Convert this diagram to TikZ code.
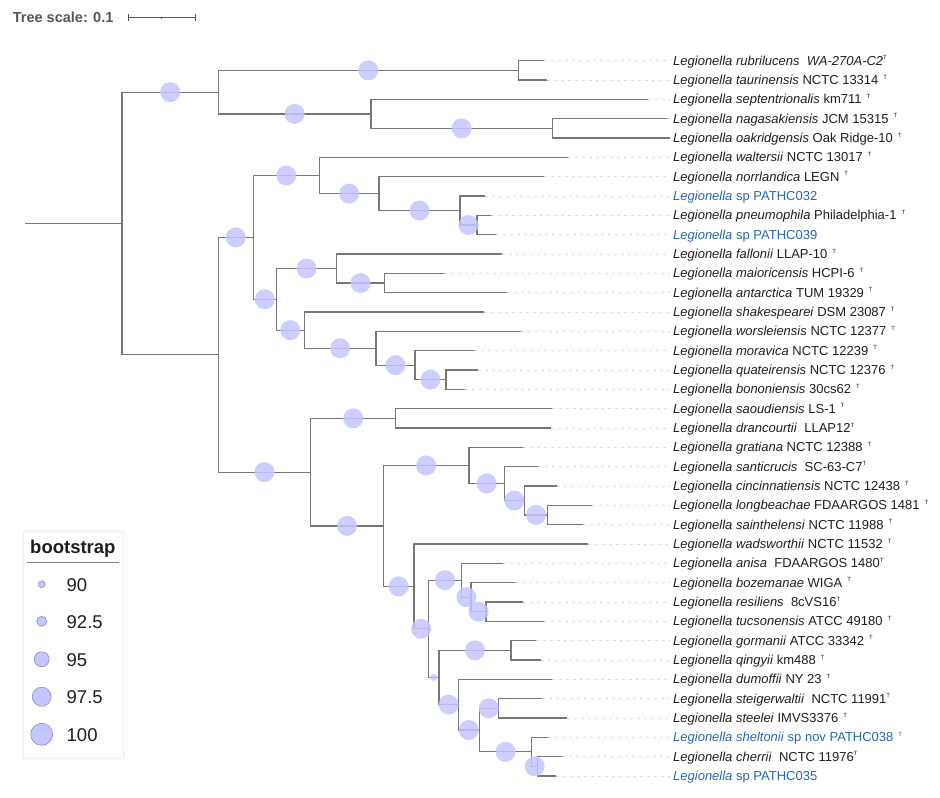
\documentclass[tikz,border=0pt]{standalone}
\usepackage{fontspec}
\setmainfont{Liberation Sans}
\usepackage{xcolor}
\usetikzlibrary{positioning,calc}

\definecolor{branchgray}{RGB}{118,118,118}
\definecolor{bootfill}{RGB}{196,196,255}
\definecolor{bootedge}{RGB}{140,140,190}
\definecolor{sample}{RGB}{38,104,172}
\definecolor{labeltext}{RGB}{30,30,30}
\definecolor{scalegray}{RGB}{85,85,85}

\newcommand\taxon[2]{\textit{Legionella #1} #2}
\newcommand\typc{\raisebox{5.5pt}{\fontsize{6}{6}\selectfont T}}
\newcommand\typ{\hspace{5pt}\typc}

\begin{document}
\begin{tikzpicture}[x=1pt,y=-1pt,
    branch/.style={draw=branchgray,line width=1.2pt},
    guide/.style={draw=gray!30,line width=0.8pt,dash pattern=on 3pt off 4pt},
    boot/.style={fill=bootfill,fill opacity=0.85},
    legdot/.style={fill=bootfill,draw=bootedge,line width=0.6pt},
    scalebar/.style={draw=scalegray,line width=1pt},
    leaflabel/.style={anchor=base west,inner xsep=3pt,inner ysep=0pt,text=labeltext,font=\fontsize{13}{15}\selectfont}]
    \useasboundingbox (0,0) rectangle (940,798);

    \coordinate (r0) at (25,223.4);
    \coordinate (r) at (122,223.4);
    \coordinate (nA) at (218.3,92.1);
    \coordinate (nA1) at (518.3,70.4);
    \coordinate (nA2) at (371,113.9);
    \coordinate (nA3) at (552.3,128.4);
    \coordinate (nB) at (218.3,354.8);
    \coordinate (nB1) at (253.3,237.4);
    \coordinate (nB1a) at (319.3,175.5);
    \coordinate (nB1b) at (379,193.6);
    \coordinate (nB1c) at (460,210.5);
    \coordinate (nB1d) at (477,225.0);
    \coordinate (nB2) at (276.3,299.3);
    \coordinate (nB2a) at (336.7,268.5);
    \coordinate (nB2b) at (384.3,283.0);
    \coordinate (nB2c) at (304.3,330.1);
    \coordinate (nB2d) at (376,348.2);
    \coordinate (nB2e) at (415,365.1);
    \coordinate (nB2f) at (446,379.6);
    \coordinate (nC) at (310.7,472.1);
    \coordinate (nC1) at (395.7,418.3);
    \coordinate (nC2) at (383.3,525.9);
    \coordinate (nC3) at (469,465.4);
    \coordinate (nC4) at (504.3,483.5);
    \coordinate (nC5) at (524.3,500.5);
    \coordinate (nC6) at (547.7,514.9);
    \coordinate (nD) at (414,586.4);
    \coordinate (nD1) at (428.3,628.8);
    \coordinate (nD2) at (461.7,580.2);
    \coordinate (nD3) at (471,597.1);
    \coordinate (nD4) at (486,611.6);
    \coordinate (nD5) at (439,677.5);
    \coordinate (nD6) at (511,650.3);
    \coordinate (nD7) at (458.3,704.6);
    \coordinate (nD8) at (479.3,730.0);
    \coordinate (nD9) at (498.3,708.3);
    \coordinate (nD10) at (531.7,751.8);
    \coordinate (nD11) at (537.7,766.3);

    \foreach \i/\up/\x/\lab in {
        1/nA1/544/{\taxon{rubrilucens}{\ \textit{WA-270A-C2}}\typc},
        2/nA1/546.7/{\taxon{taurinensis}{NCTC 13314}\typ},
        3/nA2/648/{\taxon{septentrionalis}{km711}\typ},
        4/nA3/666.7/{\taxon{nagasakiensis}{JCM 15315}\typ},
        5/nA3/670/{\taxon{oakridgensis}{Oak Ridge-10}\typ},
        6/nB1a/568/{\taxon{waltersii}{NCTC 13017}\typ},
        7/nB1b/544/{\taxon{norrlandica}{LEGN}\typ},
        8/nB1c/485/{\color{sample}\textit{Legionella} sp PATHC032},
        9/nB1d/490.7/{\taxon{pneumophila}{Philadelphia-1}\typ},
        10/nB1d/496/{\color{sample}\textit{Legionella} sp PATHC039},
        11/nB2a/501.7/{\taxon{fallonii}{LLAP-10}\typ},
        12/nB2b/444/{\taxon{maioricensis}{HCPI-6}\typ},
        13/nB2b/506.7/{\taxon{antarctica}{TUM 19329}\typ},
        14/nB2c/484/{\taxon{shakespearei}{DSM 23087}\typ},
        15/nB2d/520.7/{\taxon{worsleiensis}{NCTC 12377}\typ},
        16/nB2e/474/{\taxon{moravica}{NCTC 12239}\typ},
        17/nB2f/478.3/{\taxon{quateirensis}{NCTC 12376}\typ},
        18/nB2f/465/{\taxon{bononiensis}{30cs62}\typ},
        19/nC1/551.7/{\taxon{saoudiensis}{LS-1}\typ},
        20/nC1/551/{\taxon{drancourtii}{\ LLAP12}\typc},
        21/nC3/523.3/{\taxon{gratiana}{NCTC 12388}\typ},
        22/nC4/538.3/{\taxon{santicrucis}{\ SC-63-C7}\typc},
        23/nC5/556.7/{\taxon{cincinnatiensis}{NCTC 12438}\typ},
        24/nC6/591.7/{\taxon{longbeachae}{FDAARGOS 1481}\typ},
        25/nC6/583.3/{\taxon{sainthelensi}{NCTC 11988}\typ},
        26/nD/587.5/{\taxon{wadsworthii}{NCTC 11532}\typ},
        27/nD2/503.3/{\taxon{anisa}{\ FDAARGOS 1480}\typc},
        28/nD3/515/{\taxon{bozemanae}{WIGA}\typ},
        29/nD4/523.3/{\taxon{resiliens}{\ 8cVS16}\typc},
        30/nD4/544/{\taxon{tucsonensis}{ATCC 49180}\typ},
        31/nD6/535.7/{\taxon{gormanii}{ATCC 33342}\typ},
        32/nD6/540.7/{\taxon{qingyii}{km488}\typ},
        33/nD7/551.7/{\taxon{dumoffii}{NY 23}\typ},
        34/nD9/542.3/{\taxon{steigerwaltii}{\ NCTC 11991}\typc},
        35/nD9/567.3/{\taxon{steelei}{IMVS3376}\typ},
        36/nD10/548.3/{\color{sample}\taxon{sheltonii}{sp nov PATHC038}\typ},
        37/nD11/561.7/{\taxon{cherrii}{\ NCTC 11976}\typc},
        38/nD11/556/{\color{sample}\textit{Legionella} sp PATHC035}}{
        \pgfmathsetmacro\yy{60.7+(\i-1)*19.33}
        \coordinate (l\i) at (\x,\yy);
        \node[leaflabel] (t\i) at (670,\yy+4.6) {\lab};
        \draw[guide] (l\i) -- (l\i -| t\i.west);
        \draw[branch] (\up) |- (l\i);
    }

    \draw[branch] (r0) -- (r);
    \foreach \p/\c in {r/nA,nA/nA1,nA/nA2,nA2/nA3,r/nB,nB/nB1,nB1/nB1a,nB1a/nB1b,
        nB1b/nB1c,nB1c/nB1d,nB1/nB2,nB2/nB2a,nB2a/nB2b,nB2/nB2c,nB2c/nB2d,nB2d/nB2e,
        nB2e/nB2f,nB/nC,nC/nC1,nC/nC2,nC2/nC3,nC3/nC4,nC4/nC5,nC5/nC6,nC2/nD,nD/nD1,
        nD1/nD2,nD2/nD3,nD3/nD4,nD1/nD5,nD5/nD6,nD5/nD7,nD7/nD8,nD8/nD9,nD8/nD10,nD10/nD11}
        \draw[branch] (\p) |- (\c);

    \foreach \p/\c/\rad in {r/nA/10,nA/nA1/10,nA/nA2/10,nA2/nA3/10,nB/nB1/10,nB1/nB1a/10,
        nB1a/nB1b/10,nB1b/nB1c/10,nB1c/nB1d/10,nB1/nB2/10,nB2/nB2a/10,nB2a/nB2b/10,
        nB2/nB2c/10,nB2c/nB2d/10,nB2d/nB2e/10,nB2e/nB2f/10,nB/nC/10,nC/nC1/10,nC/nC2/10,
        nC2/nC3/10,nC3/nC4/10,nC4/nC5/10,nC5/nC6/10,nC2/nD/10,nD/nD1/10,nD1/nD2/10,
        nD2/nD3/10,nD3/nD4/10,nD1/nD5/3.5,nD5/nD6/10,nD5/nD7/10,nD7/nD8/10,nD8/nD9/10,
        nD8/nD10/10,nD10/nD11/10}
        \fill[boot] ($(\p |- \c)!0.5!(\c)$) circle (\rad pt);

    \node[anchor=base west,inner sep=0pt,text=scalegray,font=\bfseries\fontsize{14.5}{16}\selectfont] (scale) at (12.7,22.4) {Tree scale: 0.1};
    \coordinate (sb0) at (128,17.3);
    \coordinate (sb1) at (195,17.3);
    \draw[scalebar] (sb0) -- (sb1);
    \draw[scalebar] ([yshift=3.5pt]sb0) -- ([yshift=-3.5pt]sb0);
    \draw[scalebar] ([yshift=3.5pt]sb1) -- ([yshift=-3.5pt]sb1);
    \draw[scalebar,line width=0.7pt] ($(sb0)!0.5!(sb1)$) -- ++(0,2);

    \draw[draw=gray!15,line width=0.6pt] (23,531) rectangle (123,758);
    \node[anchor=base west,inner sep=0pt,text=labeltext,font=\bfseries\fontsize{18.5}{20}\selectfont] (legtitle) at (30,553.3) {bootstrap};
    \draw[draw=gray,line width=1.3pt] (27,562.7) -- (119,562.7);
    \foreach \v/\rad/\y [count=\k] in {90/3.5/584.3,92.5/5/621.3,95/7.5/659.3,97.5/9.5/696.7,100/11/734.3}{
        \filldraw[legdot] (41.7,\y) circle (\rad pt);
        \node[anchor=base west,inner sep=0pt,text=labeltext,font=\fontsize{18.5}{20}\selectfont] (leg\k) at (66.5,{\y+6.7}) {\v};
    }
\end{tikzpicture}
\end{document}
